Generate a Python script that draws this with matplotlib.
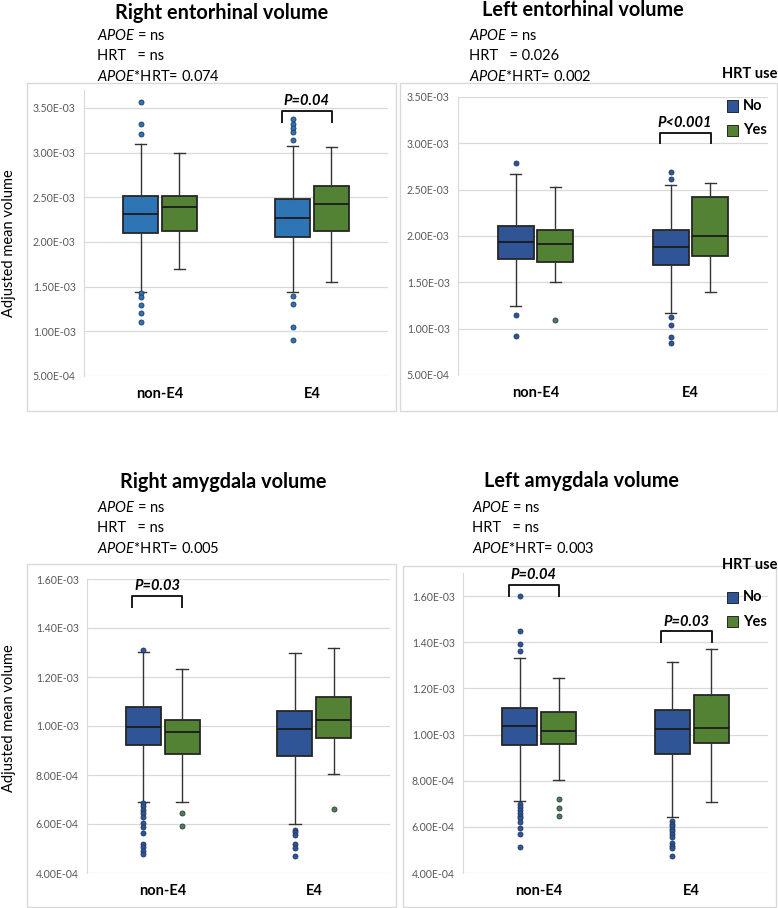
import numpy as np
import matplotlib
matplotlib.use("Agg")
import matplotlib.pyplot as plt
from matplotlib.patches import Rectangle

plt.rcParams['font.family'] = ['Lato', 'DejaVu Sans']
plt.rcParams['mathtext.fontset'] = 'custom'
plt.rcParams['mathtext.it'] = 'Lato:italic'
plt.rcParams['mathtext.rm'] = 'Lato'

# ---- data (volumes in units of 1e-3) ----
groups = ["non-E4", "E4"]
hrt_labels = ["No", "Yes"]

# rows: non-E4/No, non-E4/Yes, E4/No, E4/Yes ; cols: whislo, q1, median, q3, whishi
r_ento_box = [
    [1.444, 2.10, 2.31, 2.51, 3.10],
    [1.70, 2.12, 2.39, 2.51, 3.00],
    [1.444, 2.06, 2.27, 2.48, 3.07],
    [1.55, 2.12, 2.42, 2.63, 3.06],
]
r_ento_out = [
    [3.57, 3.32, 3.21, 1.43, 1.38, 1.29, 1.21, 1.10],
    [],
    [3.38, 3.32, 3.28, 3.23, 3.14, 1.40, 1.31, 1.05, 0.90],
    [],
]
l_ento_box = [
    [1.245, 1.75, 1.93, 2.11, 2.67],
    [1.50, 1.715, 1.91, 2.07, 2.53],
    [1.165, 1.69, 1.88, 2.06, 2.55],
    [1.40, 1.78, 2.00, 2.42, 2.57],
]
l_ento_out = [
    [2.785, 1.15, 0.925],
    [1.09],
    [2.69, 2.62, 1.13, 1.035, 0.91, 0.85],
    [],
]
r_amyg_box = [
    [0.688, 0.923, 0.996, 1.077, 1.303],
    [0.691, 0.887, 0.976, 1.026, 1.231],
    [0.600, 0.877, 0.986, 1.063, 1.296],
    [0.806, 0.949, 1.026, 1.119, 1.317],
]
r_amyg_out = [
    [1.31, 0.686, 0.672, 0.658, 0.643, 0.630, 0.603, 0.589, 0.562,
     0.518, 0.505, 0.491, 0.478],
    [0.644, 0.592],
    [0.577, 0.566, 0.556, 0.518, 0.502, 0.471],
    [0.66],
]
l_amyg_box = [
    [0.713, 0.954, 1.035, 1.113, 1.332],
    [0.804, 0.959, 1.016, 1.097, 1.246],
    [0.643, 0.914, 1.023, 1.106, 1.314],
    [0.707, 0.965, 1.028, 1.171, 1.370],
]
l_amyg_out = [
    [1.60, 1.449, 1.391, 1.364, 0.699, 0.684, 0.672, 0.661, 0.649, 0.638,
     0.619, 0.593, 0.571, 0.513],
    [0.72, 0.683, 0.646],
    [0.626, 0.614, 0.603, 0.591, 0.580, 0.568, 0.558, 0.529, 0.517, 0.507, 0.472],
    [],
]

# APOE, HRT, APOE*HRT
r_ento_stats = ["ns", "ns", "0.074"]
l_ento_stats = ["ns", "0.026", "0.002"]
r_amyg_stats = ["ns", "ns", "0.005"]
l_amyg_stats = ["ns", "ns", "0.003"]

# (group index, bracket top, leg end, label)
r_ento_pvals = [(1, 3.47, 3.34, "P=0.04")]
l_ento_pvals = [(1, 3.115, 3.00, "P<0.001")]
r_amyg_pvals = [(0, 1.530, 1.487, "P=0.03")]
l_amyg_pvals = [(0, 1.648, 1.60, "P=0.04"), (1, 1.447, 1.40, "P=0.03")]

titles = ["Right entorhinal volume", "Left entorhinal volume",
          "Right amygdala volume", "Left amygdala volume"]

W, H = 778, 908
fig = plt.figure(figsize=(W / 100, H / 100), dpi=100)


def fx(x):
    return x / W


def fy(y):
    return 1 - y / H


GREEN = "#548235"
TICK_COL = "#595959"
GRID_COL = "#D9D9D9"


def draw_panel(box, out, stats, pvals, title, ax_px, frame_px, text_xy, title_xy,
               yticks, ylim, blue, legend_y=None):
    # chart frame
    fl, ft, fr, fb = frame_px
    fig.patches.append(Rectangle((fx(fl), fy(fb)), (fr - fl) / W, (fb - ft) / H,
                                 transform=fig.transFigure, fill=False,
                                 edgecolor=GRID_COL, lw=1))
    l, t, r, b = ax_px
    ax = fig.add_axes([fx(l), fy(b), (r - l) / W, (b - t) / H])

    box = np.array(box) * 1e-3
    bstats = []
    for row, fl_ in zip(box, out):
        bstats.append(dict(whislo=row[0], q1=row[1], med=row[2], q3=row[3],
                           whishi=row[4], fliers=np.array(fl_) * 1e-3))
    colors = [blue, GREEN, blue, GREEN]
    off = 0.128
    positions = [g + s * off for g in range(len(groups)) for s in (-1, 1)]
    for st, pos, c in zip(bstats, positions, colors):
        ax.bxp([st], positions=[pos], widths=0.232, patch_artist=True,
               capwidths=0.075, manage_ticks=False,
               boxprops=dict(facecolor=c, edgecolor="#262626", lw=1.3),
               medianprops=dict(color="#1a1a1a", lw=1.3),
               whiskerprops=dict(color="#333333", lw=1.0),
               capprops=dict(color="#333333", lw=1.0),
               flierprops=dict(marker="o", markersize=3.6, markerfacecolor=c,
                               markeredgecolor="#1F3864", markeredgewidth=0.6))

    ax.set_xlim(-0.5, 1.5)
    ax.set_ylim(ylim[0] * 1e-3, ylim[1] * 1e-3)
    ax.set_yticks(np.array(yticks) * 1e-3)
    ax.set_yticklabels([f"{v * 1e-3:.2E}" for v in yticks], color=TICK_COL,
                       fontsize=7.6)
    ax.set_xticks(range(len(groups)))
    ax.set_xticklabels(groups, fontsize=10.5, fontweight="bold")
    ax.tick_params(axis="both", length=0)
    ax.tick_params(axis="x", pad=8)
    ax.tick_params(axis="y", pad=6)
    ax.grid(axis="y", color=GRID_COL, lw=0.9)
    ax.set_axisbelow(True)
    for side in ("top", "right", "bottom"):
        ax.spines[side].set_visible(False)
    ax.spines["left"].set_color(GRID_COL)

    # significance brackets
    for g, top, leg, lab in pvals:
        x0, x1 = g - 0.2, g + 0.13
        ax.plot([x0, x0, x1, x1], np.array([leg, top, top, leg]) * 1e-3,
                color="#1a1a1a", lw=1.4, clip_on=False, solid_joinstyle="round")
        ax.annotate(lab, ((x0 + x1) / 2, top * 1e-3), xytext=(0, 2),
                    textcoords="offset points", ha="center", va="bottom",
                    fontsize=10.5, fontweight="bold", style="italic")

    # title + ANOVA stats
    fig.text(fx(title_xy[0]), fy(title_xy[1]), title, ha="center", va="center",
             fontsize=14.3, fontweight="bold")
    tx, ty = text_xy
    lines = [r"$\mathit{APOE}$ = " + stats[0],
             "HRT   = " + stats[1],
             r"$\mathit{APOE}$*HRT= " + stats[2]]
    for i, s in enumerate(lines):
        fig.text(fx(tx), fy(ty + i * 20.3), s, ha="left", va="center", fontsize=10.5)

    if legend_y is not None:
        fig.text(fx(722), fy(legend_y), "HRT use", ha="left", va="center",
                 fontsize=10.5, fontweight="bold")
        for i, (lab, c) in enumerate(zip(hrt_labels, [blue, GREEN])):
            yy = legend_y + 32 + i * 24.5
            fig.patches.append(Rectangle((fx(727), fy(yy + 5.5)), 11 / W, 11 / H,
                                         transform=fig.transFigure, facecolor=c,
                                         edgecolor="#262626", lw=0.7))
            fig.text(fx(743), fy(yy), lab, ha="left", va="center", fontsize=10.5,
                     fontweight="bold")
    return ax


draw_panel(r_ento_box, r_ento_out, r_ento_stats, r_ento_pvals, titles[0],
           (84, 90, 388, 376), (27, 83, 396, 411), (97, 36), (222, 13),
           [0.5, 1.0, 1.5, 2.0, 2.5, 3.0, 3.5], (0.5, 3.7), "#2E75B6")
draw_panel(l_ento_box, l_ento_out, l_ento_stats, l_ento_pvals, titles[1],
           (458, 97, 768, 375), (400, 83, 777, 411), (469, 36), (583, 10),
           [0.5, 1.0, 1.5, 2.0, 2.5, 3.0, 3.5], (0.5, 3.5), "#2F5597", legend_y=74)
draw_panel(r_amyg_box, r_amyg_out, r_amyg_stats, r_amyg_pvals, titles[2],
           (87, 579, 390, 873), (27, 564, 396, 907), (97, 508), (223, 482),
           [0.4, 0.6, 0.8, 1.0, 1.2, 1.4, 1.6], (0.4, 1.6), "#2F5597")
draw_panel(l_amyg_box, l_amyg_out, l_amyg_stats, l_amyg_pvals, titles[3],
           (463, 573, 768, 873), (403, 566, 776, 907), (472, 508), (582, 481),
           [0.4, 0.6, 0.8, 1.0, 1.2, 1.4, 1.6], (0.4, 1.7), "#2F5597", legend_y=565)

for yc in (243, 718):
    fig.text(fx(9), fy(yc), "Adjusted mean volume", rotation=90, ha="center",
             va="center", fontsize=10.5)

fig.savefig("out.png", dpi=100)
